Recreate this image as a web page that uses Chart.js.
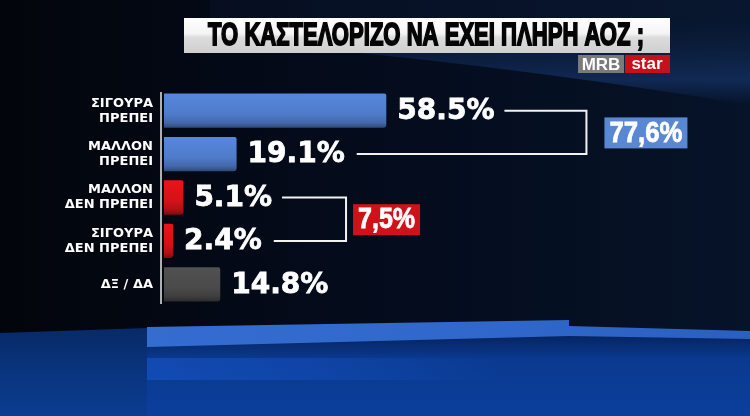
<!DOCTYPE html>
<html>
<head>
<meta charset="utf-8">
<script src="https://cdn.jsdelivr.net/npm/chart.js@4.4.1/dist/chart.umd.min.js"></script>
<style>
  html, body { margin: 0; padding: 0; background: #030812; }
  #wrap { position: relative; width: 750px; height: 416px; }
</style>
</head>
<body>
<div id="wrap"><canvas id="poll" width="750" height="416"></canvas></div>
<script>
// data
const titleText = 'ΤΟ ΚΑΣΤΕΛΟΡΙΖΟ ΝΑ ΕΧΕΙ ΠΛΗΡΗ ΑΟΖ ;';
const categories = [
  ['ΣΙΓΟΥΡΑ', 'ΠΡΕΠΕΙ'],
  ['ΜΑΛΛΟΝ', 'ΠΡΕΠΕΙ'],
  ['ΜΑΛΛΟΝ', 'ΔΕΝ ΠΡΕΠΕΙ'],
  ['ΣΙΓΟΥΡΑ', 'ΔΕΝ ΠΡΕΠΕΙ'],
  'ΔΞ / ΔΑ',
];
const values = [58.5, 19.1, 5.1, 2.4, 14.8];
const barColors = ['#4f7bc9', '#4f7bc9', '#d31218', '#d31218', '#4a4a4a'];
// bracketed sums (first + second member)
const groupMembers = [[0, 1], [2, 3]];
const groupTotals = [77.6, 7.5];
const groupColors = ['#5a87d2', '#cf1219'];

const pct = (v) => v.toFixed(1) + '%';
const pctComma = (v) => v.toFixed(1).replace('.', ',') + '%';

function shade(hex, f) {
  const n = parseInt(hex.slice(1), 16);
  let r = (n >> 16) & 255, g = (n >> 8) & 255, b = n & 255;
  r = Math.min(255, Math.round(r * f)); g = Math.min(255, Math.round(g * f)); b = Math.min(255, Math.round(b * f));
  return `rgb(${r},${g},${b})`;
}

const backdrop = {
  id: 'backdrop',
  beforeDraw(chart) {
    const ctx = chart.ctx;
    const W = chart.width, H = chart.height;
    ctx.save();
    let g = ctx.createLinearGradient(0, 0, W, 0);
    g.addColorStop(0, '#02050b');
    g.addColorStop(0.45, '#040b1b');
    g.addColorStop(1, '#061328');
    ctx.fillStyle = g;
    ctx.fillRect(0, 0, W, H);

    // soft swoosh up top right
    ctx.beginPath();
    ctx.moveTo(210, 0);
    ctx.lineTo(W, 0);
    ctx.lineTo(W, 105);
    ctx.quadraticCurveTo(480, 60, 210, 40);
    ctx.closePath();
    g = ctx.createLinearGradient(0, 20, 0, 105);
    g.addColorStop(0, 'rgba(20,45,90,0.15)');
    g.addColorStop(0.7, 'rgba(30,70,140,0.45)');
    g.addColorStop(1, 'rgba(30,70,140,0)');
    ctx.fillStyle = g;
    ctx.fill();

    // floor, left part
    ctx.beginPath();
    ctx.moveTo(0, 333);
    ctx.lineTo(147, 328);
    ctx.lineTo(147, H);
    ctx.lineTo(0, H);
    ctx.closePath();
    g = ctx.createLinearGradient(0, 330, 0, H);
    g.addColorStop(0, '#082a68');
    g.addColorStop(0.5, '#09357f');
    g.addColorStop(1, '#0a3c90');
    ctx.fillStyle = g;
    ctx.fill();

    // floor, right part
    ctx.beginPath();
    ctx.moveTo(147, 340);
    ctx.lineTo(W, 332);
    ctx.lineTo(W, H);
    ctx.lineTo(147, H);
    ctx.closePath();
    g = ctx.createLinearGradient(0, 336, 0, H);
    g.addColorStop(0, '#062563');
    g.addColorStop(0.3, '#0a3a90');
    g.addColorStop(1, '#0b3f9c');
    ctx.fillStyle = g;
    ctx.fill();

    // lighter band below the stripe, fading out to the right
    g = ctx.createLinearGradient(147, 0, 500, 0);
    g.addColorStop(0, 'rgba(25,90,210,0.5)');
    g.addColorStop(0.5, 'rgba(25,90,210,0.3)');
    g.addColorStop(1, 'rgba(25,90,210,0)');
    ctx.fillStyle = g;
    ctx.fillRect(147, 358, 353, 22);

    // bright stripe
    ctx.beginPath();
    ctx.moveTo(147, 327);
    ctx.lineTo(569, 320);
    ctx.lineTo(569, 326);
    ctx.lineTo(W, 331);
    ctx.lineTo(W, 339);
    ctx.lineTo(569, 336);
    ctx.lineTo(147, 347);
    ctx.closePath();
    g = ctx.createLinearGradient(147, 0, W, 0);
    g.addColorStop(0, '#346ccf');
    g.addColorStop(0.6, '#2f67ca');
    g.addColorStop(1, '#2a60c0');
    ctx.fillStyle = g;
    ctx.fill();
    ctx.restore();
  }
};

const overlay = {
  id: 'overlay',
  afterDatasetsDraw(chart) {
    const ctx = chart.ctx;
    const xs = chart.scales.x;
    const area = chart.chartArea;
    const meta = chart.getDatasetMeta(0);
    ctx.save();

    // axis line
    ctx.strokeStyle = '#e8e8e8';
    ctx.lineWidth = 1.5;
    ctx.beginPath();
    ctx.moveTo(area.left - 3, area.top + 3);
    ctx.lineTo(area.left - 3, area.bottom - 2);
    ctx.stroke();

    // value labels
    ctx.font = 'bold 28px "DejaVu Sans"';
    ctx.fillStyle = '#ffffff';
    ctx.strokeStyle = '#ffffff';
    ctx.lineWidth = 0.8;
    ctx.textBaseline = 'middle';
    ctx.textAlign = 'left';
    const ends = [];
    values.forEach((v, i) => {
      const x = xs.getPixelForValue(v) + 11;
      const y = meta.data[i].y + 1;
      const t = pct(v);
      ctx.fillText(t, x, y);
      ctx.strokeText(t, x, y);
      ends.push({ x: x + ctx.measureText(t).width, y: y - 1 });
    });

    // brackets and sum boxes
    const reach = [92, 74];
    const boxGap = [18, 7];
    groupMembers.forEach((m, gi) => {
      const a = ends[m[0]], b = ends[m[1]];
      const rx = a.x + reach[gi];
      ctx.strokeStyle = '#f2f2f2';
      ctx.lineWidth = 2;
      ctx.beginPath();
      ctx.moveTo(a.x + 10, a.y);
      ctx.lineTo(rx, a.y);
      ctx.lineTo(rx, b.y);
      ctx.lineTo(b.x + 12, b.y);
      ctx.stroke();

      const t = pctComma(groupTotals[gi]);
      ctx.font = 'bold 30px "Liberation Sans"';
      const tw = Math.min(ctx.measureText(t).width, gi === 0 ? 73 : 57);
      const bx = rx + boxGap[gi], by = (a.y + b.y) / 2;
      ctx.fillStyle = groupColors[gi];
      ctx.fillRect(bx, by - 15, tw + 10, 31);
      ctx.fillStyle = '#ffffff';
      ctx.strokeStyle = '#ffffff';
      ctx.lineWidth = 0.8;
      ctx.textAlign = 'left';
      ctx.fillText(t, bx + 5, by + 1, tw);
      ctx.strokeText(t, bx + 5, by + 1, tw);
    });

    // title plate
    const tx = 184, ty = 18, tw = 486, th = 35;
    let g = ctx.createLinearGradient(0, ty, 0, ty + th);
    g.addColorStop(0, '#ffffff');
    g.addColorStop(0.45, '#f4f4f4');
    g.addColorStop(0.55, '#dcdcdc');
    g.addColorStop(1, '#cfcfcf');
    ctx.fillStyle = g;
    ctx.fillRect(tx, ty, tw, th);
    ctx.font = 'bold 31px "Liberation Sans"';
    ctx.fillStyle = '#050505';
    ctx.strokeStyle = '#050505';
    ctx.lineWidth = 1.8;
    ctx.textAlign = 'center';
    ctx.textBaseline = 'middle';
    ctx.fillText(titleText, tx + tw / 2 - 1, ty + th / 2 + 1, 436);
    ctx.strokeText(titleText, tx + tw / 2 - 1, ty + th / 2 + 1, 436);

    // MRB star tag
    ctx.fillStyle = '#7a7a7a';
    ctx.fillRect(578, 55, 46, 18);
    ctx.fillStyle = '#c8101a';
    ctx.fillRect(625, 55, 45, 18);
    ctx.fillStyle = '#ffffff';
    ctx.font = 'bold 17px "Liberation Sans"';
    ctx.textAlign = 'center';
    ctx.fillText('MRB', 601, 65, 40);
    ctx.fillText('star', 647, 64, 38);

    ctx.restore();
  }
};

new Chart(document.getElementById('poll'), {
  type: 'bar',
  data: {
    labels: categories,
    datasets: [{
      data: values,
      backgroundColor: (c) => {
        const base = barColors[c.dataIndex];
        const chart = c.chart;
        if (!chart.chartArea || !chart.scales.y) return base;
        const y = chart.scales.y.getPixelForValue(c.dataIndex);
        const g = chart.ctx.createLinearGradient(0, y - 17, 0, y + 17);
        g.addColorStop(0, shade(base, 1.1));
        g.addColorStop(0.6, base);
        g.addColorStop(0.85, shade(base, 0.85));
        g.addColorStop(1, shade(base, 0.6));
        return g;
      },
      borderWidth: 0,
      borderRadius: { topRight: 2, bottomRight: 3 },
      borderSkipped: 'start',
      barPercentage: 0.79,
      categoryPercentage: 1,
    }],
  },
  options: {
    indexAxis: 'y',
    responsive: false,
    animation: false,
    events: [],
    layout: { padding: { top: 89, bottom: 110, left: 0, right: 206 } },
    plugins: {
      legend: { display: false },
      tooltip: { enabled: false },
    },
    scales: {
      x: { display: false, min: 0, max: 100 },
      y: {
        afterFit: (scale) => { scale.width = 164; },
        grid: { display: false, drawTicks: false },
        border: { display: false },
        ticks: {
          color: '#ffffff',
          padding: 11,
          font: { family: '"DejaVu Sans"', weight: 'bold', size: 13, lineHeight: 1.15 },
        },
      },
    },
  },
  plugins: [backdrop, overlay],
});
</script>
</body>
</html>
